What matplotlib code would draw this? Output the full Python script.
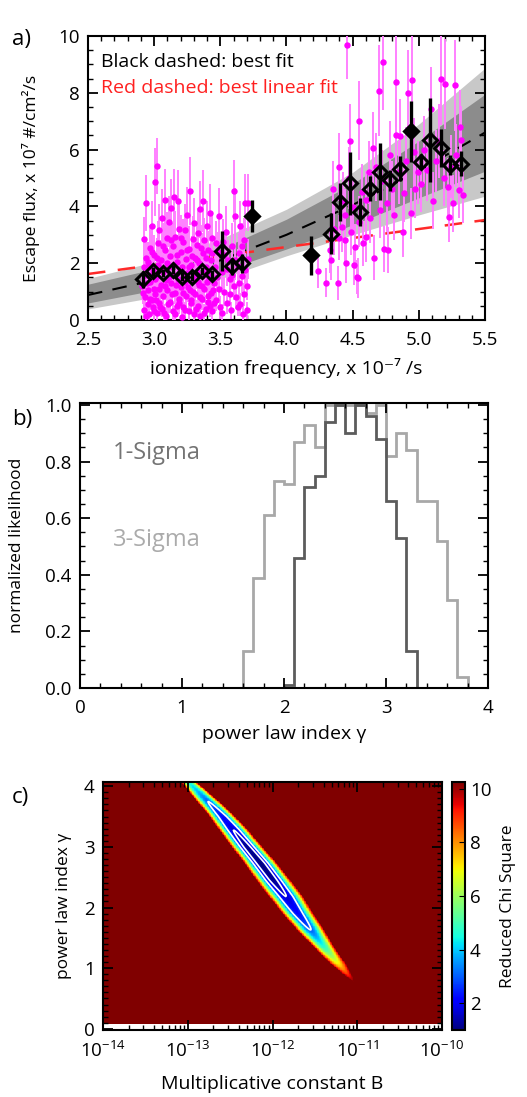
import numpy as np
import matplotlib
matplotlib.use("Agg")
import matplotlib.pyplot as plt
from matplotlib.ticker import MultipleLocator, LogLocator, NullFormatter

plt.rcParams["font.family"] = ["Open Sans", "DejaVu Sans"]
plt.rcParams["mathtext.fontset"] = "custom"
plt.rcParams["mathtext.rm"] = "Open Sans"
plt.rcParams["mathtext.default"] = "regular"
plt.rcParams["axes.linewidth"] = 1.5

# ---------------- panel a: escape flux vs ionization frequency ----------------
# individual measurements (magenta), low-frequency group
low_x = [2.91, 2.92, 2.92, 2.93, 2.93, 2.94, 2.94, 2.95, 2.95, 2.96, 2.96, 2.97, 2.97, 2.98, 2.98,
         2.99, 2.99, 3.00, 3.00, 3.01, 3.01, 3.02, 3.02, 3.02, 3.03, 3.03, 3.04, 3.04, 3.05, 3.05,
         3.06, 3.06, 3.07, 3.07, 3.08, 3.08, 3.09, 3.09, 3.10, 3.10, 3.11, 3.11, 3.12, 3.12, 3.13,
         3.13, 3.14, 3.14, 3.15, 3.15, 3.16, 3.16, 3.17, 3.17, 3.18, 3.18, 3.19, 3.19, 3.20, 3.20,
         3.21, 3.21, 3.22, 3.22, 3.23, 3.23, 3.24, 3.24, 3.25, 3.25, 3.26, 3.26, 3.27, 3.27, 3.28,
         3.28, 3.29, 3.29, 3.30, 3.30, 3.31, 3.31, 3.32, 3.32, 3.33, 3.33, 3.34, 3.34, 3.35, 3.35,
         3.36, 3.36, 3.37, 3.37, 3.38, 3.38, 3.39, 3.39, 3.40, 3.40, 3.41, 3.41, 3.42, 3.42, 3.43,
         3.43, 3.44, 3.44, 3.45, 3.46, 3.47, 3.48, 3.49, 3.49, 3.50, 3.51, 3.52, 3.53, 3.54, 3.55,
         3.56, 3.57, 3.58, 3.59, 3.60, 3.60, 3.61, 3.62, 3.63, 3.64, 3.65, 3.65, 3.66, 3.67, 3.68,
         3.69, 3.70, 3.71, 3.71,
         2.915, 2.925, 2.935, 2.945, 2.955, 2.965, 2.975, 2.985, 2.995, 3.005, 3.015, 3.025, 3.035,
         3.045, 3.055, 3.065, 3.075, 3.085, 3.095, 3.105, 3.115, 3.125, 3.135, 3.145, 3.155, 3.165,
         3.175, 3.185, 3.195, 3.205, 3.215, 3.225, 3.235, 3.245, 3.255, 3.265, 3.275, 3.285, 3.295,
         3.305, 3.315, 3.325, 3.335, 3.345, 3.355, 3.365, 3.375, 3.385, 3.395, 3.405, 3.415, 3.425,
         3.435, 3.445, 3.455, 3.465, 3.475, 3.51, 3.53, 3.55, 3.57, 3.59, 3.61, 3.63, 3.64, 3.66,
         3.68, 3.69, 3.70]
low_y = [1.20, 2.84, 0.35, 0.80, 1.60, 4.12, 2.20, 0.55, 1.05, 1.90, 0.20, 2.55, 1.35, 0.70, 3.30,
         1.75, 0.45, 2.30, 1.10, 4.87, 0.90, 5.42, 1.55, 0.25, 2.70, 1.95, 3.17, 0.60, 1.25, 2.10,
         0.40, 3.60, 1.70, 0.85, 2.45, 4.23, 1.40, 0.15, 2.90, 1.05, 3.46, 1.85, 0.65, 2.25, 1.30,
         3.95, 0.30, 2.60, 4.33, 1.60, 2.93, 0.95, 2.05, 0.50, 4.19, 1.45, 3.20, 0.75, 2.40, 1.15,
         0.10, 1.85, 2.75, 0.45, 3.17, 1.35, 2.15, 0.85, 3.70, 1.65, 0.30, 2.50, 4.54, 1.05, 1.95,
         0.60, 2.85, 1.40, 3.40, 0.20, 2.20, 0.90, 1.70, 2.65, 0.50, 3.05, 1.25, 2.00, 0.15, 3.90,
         1.55, 0.75, 4.19, 2.35, 1.10, 2.80, 0.40, 1.85, 3.30, 1.35, 0.65, 2.45, 3.78, 1.60, 0.95,
         2.10, 0.30, 2.90, 1.30, 1.85, 0.70, 2.40, 3.66, 1.10, 0.45, 1.70, 2.75, 1.00, 3.10, 0.60,
         2.10, 1.45, 0.35, 2.60, 4.54, 1.20, 3.66, 0.80, 1.90, 2.35, 3.30, 0.55, 1.55, 0.20, 2.80,
         4.13, 1.20, 4.13, 2.15,
         0.95, 1.85, 0.15, 1.30, 2.05, 0.75, 1.60, 2.40, 0.30, 1.45, 0.70, 2.20, 1.10,
         0.45, 1.80, 2.60, 0.25, 1.20, 2.00, 0.55, 1.50, 2.80, 0.90, 1.95, 0.20, 1.25,
         2.30, 0.60, 1.75, 2.90, 0.95, 1.55, 0.35, 2.45, 1.15, 1.85, 0.70, 2.25, 1.00,
         1.60, 0.40, 2.10, 1.35, 0.80, 2.55, 1.20, 0.25, 1.65, 2.20, 0.85, 1.45, 0.50,
         2.35, 1.05, 0.60, 2.70, 1.50, 0.25, 2.30, 1.80, 0.90, 1.60, 2.10, 0.45, 1.30, 2.60,
         0.90, 1.75, 0.35]
low_err = [0.5, 0.8, 0.3, 0.4, 0.6, 1.0, 0.7, 0.4, 0.5, 0.6, 0.3, 0.8, 0.5, 0.4, 0.9,
           0.6, 0.3, 0.7, 0.5, 1.2, 0.4, 1.0, 0.6, 0.3, 0.8, 0.6, 0.9, 0.4, 0.5, 0.7,
           0.3, 1.0, 0.6, 0.4, 0.8, 1.1, 0.5, 0.3, 0.9, 0.5, 0.9, 0.6, 0.4, 0.7, 0.5,
           1.0, 0.3, 0.8, 1.0, 0.6, 0.9, 0.4, 0.7, 0.4, 1.1, 0.5, 0.9, 0.4, 0.7, 0.5,
           0.3, 0.6, 0.8, 0.3, 0.9, 0.5, 0.7, 0.4, 1.0, 0.6, 0.3, 0.8, 1.2, 0.5, 0.6,
           0.4, 0.8, 0.5, 0.9, 0.3, 0.7, 0.4, 0.6, 0.8, 0.4, 0.9, 0.5, 0.7, 0.3, 1.0,
           0.6, 0.4, 1.1, 0.7, 0.5, 0.8, 0.3, 0.6, 0.9, 0.5, 0.4, 0.7, 1.0, 0.6, 0.4,
           0.7, 0.3, 0.8, 0.5, 0.6, 0.4, 0.7, 1.0, 0.5, 0.4, 0.6, 0.8, 0.5, 0.9, 0.4,
           0.7, 0.5, 0.3, 0.8, 1.1, 0.5, 1.0, 0.4, 0.6, 0.7, 0.9, 0.4, 0.6, 0.3, 0.8,
           1.0, 0.5, 1.0, 0.7,
           0.4, 0.6, 0.3, 0.5, 0.7, 0.4, 0.5, 0.7, 0.3, 0.5, 0.4, 0.7, 0.5,
           0.3, 0.6, 0.8, 0.3, 0.5, 0.6, 0.4, 0.5, 0.8, 0.4, 0.6, 0.3, 0.5,
           0.7, 0.4, 0.6, 0.8, 0.4, 0.5, 0.3, 0.7, 0.5, 0.6, 0.4, 0.7, 0.4,
           0.5, 0.3, 0.7, 0.5, 0.4, 0.8, 0.5, 0.3, 0.6, 0.7, 0.4, 0.5, 0.4,
           0.7, 0.5, 0.4, 0.8, 0.5, 0.3, 0.7, 0.6, 0.4, 0.5, 0.7, 0.3, 0.5, 0.8,
           0.4, 0.6, 0.3]

# individual measurements (magenta), high-frequency group
high_x = [4.24, 4.30, 4.33, 4.34, 4.35, 4.36, 4.39, 4.40, 4.40, 4.42, 4.43, 4.44, 4.44, 4.45, 4.46,
          4.47, 4.48, 4.49, 4.50, 4.51, 4.52, 4.53, 4.54, 4.55, 4.55, 4.57, 4.58, 4.60, 4.60, 4.62,
          4.63, 4.65, 4.66, 4.68, 4.70, 4.71, 4.72, 4.73, 4.74, 4.76, 4.77, 4.78, 4.80, 4.81, 4.83,
          4.83, 4.85, 4.86, 4.88, 4.89, 4.90, 4.92, 4.94, 4.95, 4.96, 4.97, 4.99, 5.02, 5.04, 5.06,
          5.09, 5.11, 5.13, 5.15, 5.17, 5.19, 5.20, 5.22, 5.23, 5.24, 5.26, 5.27, 5.28, 5.30, 5.31,
          5.32, 5.33]
high_y = [1.74, 1.32, 2.46, 2.11, 4.61, 3.20, 1.31, 5.40, 2.90, 3.29, 4.20, 2.82, 3.70, 2.00, 9.68,
          5.00, 6.30, 3.10, 3.99, 1.95, 2.58, 1.50, 1.47, 7.02, 3.46, 4.50, 2.70, 4.23, 2.93, 5.20,
          3.60, 6.04, 2.20, 5.40, 8.07, 3.87, 4.90, 9.10, 2.50, 4.11, 2.46, 5.80, 4.60, 3.70, 6.51,
          8.39, 5.20, 6.48, 3.11, 4.46, 5.60, 8.00, 3.76, 8.45, 5.90, 4.60, 5.20, 4.80, 6.00, 5.28,
          7.42, 4.20, 5.60, 6.30, 8.47, 5.00, 8.31, 4.69, 3.64, 5.40, 4.11, 8.27, 5.80, 4.58, 6.81,
          6.34, 4.40]
high_err = [0.6, 0.5, 0.8, 0.7, 1.0, 0.9, 0.6, 1.2, 0.8, 0.9, 1.0, 0.8, 0.9, 0.7, 1.2,
            1.1, 1.3, 0.8, 1.0, 0.7, 0.8, 0.6, 0.7, 1.4, 0.9, 1.0, 0.8, 1.0, 0.9, 1.1,
            0.9, 1.3, 0.8, 1.2, 1.6, 1.0, 1.1, 1.7, 0.8, 1.0, 0.8, 1.2, 1.0, 0.9, 1.3,
            1.6, 1.1, 1.3, 0.9, 1.0, 1.2, 1.5, 0.9, 1.6, 1.2, 1.0, 1.1, 1.0, 1.2, 1.1,
            1.5, 1.0, 1.1, 1.3, 1.6, 1.0, 1.6, 1.0, 0.9, 1.1, 1.0, 1.6, 1.1, 1.0, 1.3,
            1.2, 1.0]

# binned averages (black diamonds); filled = True for solid diamonds
bin_x = [2.913, 2.99, 3.064, 3.14, 3.21, 3.285, 3.36, 3.436, 3.51, 3.587, 3.663, 3.743,
         4.186, 4.335, 4.405, 4.48, 4.556, 4.63, 4.71, 4.78, 4.858, 4.94, 5.014, 5.085,
         5.165, 5.236, 5.316]
bin_y = [1.44, 1.71, 1.65, 1.77, 1.53, 1.53, 1.73, 1.61, 2.43, 1.90, 1.99, 3.66,
         2.28, 3.04, 4.16, 4.81, 3.81, 4.63, 5.22, 4.92, 5.33, 6.64, 5.57, 6.35,
         6.04, 5.47, 5.51]
bin_err = [0.30, 0.15, 0.15, 0.15, 0.15, 0.15, 0.15, 0.15, 0.70, 0.30, 0.35, 0.55,
           0.68, 0.73, 0.67, 1.10, 0.50, 0.45, 1.00, 0.37, 0.45, 1.07, 0.27, 1.48,
           0.67, 0.35, 0.44]
bin_filled = [False] * 11 + [True, True] + [False] * 8 + [True] + [False] * 5

# best fit curve and its confidence bands, read at these frequencies
fit_x = [2.5, 3.0, 3.5, 4.0, 4.5, 5.0, 5.5]
fit_best = [0.88, 1.40, 2.10, 3.00, 4.05, 5.25, 6.60]
band3_hi = [1.46, 2.05, 2.85, 3.90, 5.20, 6.90, 8.87]
band3_lo = [0.39, 0.80, 1.45, 2.26, 3.00, 3.70, 4.36]
band1_hi = [1.26, 1.80, 2.50, 3.55, 4.80, 6.30, 7.95]
band1_lo = [0.60, 1.05, 1.70, 2.50, 3.35, 4.30, 5.24]
lin_x = [2.5, 5.5]
lin_y = [1.62, 3.52]

# ---------------- panel b: likelihood histograms ----------------
hist_edges_3s = np.round(np.arange(1.6, 3.81, 0.1), 2)
hist_3sigma = [0.13, 0.39, 0.61, 0.73, 0.72, 0.87, 0.93, 0.85, 1.0, 1.0, 1.0,
               1.0, 0.97, 1.0, 0.82, 0.90, 0.84, 0.66, 0.66, 0.52, 0.31, 0.04]
hist_edges_1s = np.round(np.arange(2.0, 3.31, 0.1), 2)
hist_1sigma = [0.01, 0.46, 0.71, 0.75, 0.94, 1.0, 0.90, 1.0, 0.96, 0.88, 0.66, 0.53, 0.13]

# ---------------- panel c: reduced chi-square valley ----------------
valley_gamma = [0.50, 0.81, 1.08, 1.36, 1.63, 1.90, 2.18, 2.45, 2.73, 3.00, 3.28, 3.50, 3.75, 4.07]
valley_center = [-10.90, -11.06, -11.23, -11.40, -11.55, -11.70, -11.84, -11.99, -12.14,
                 -12.30, -12.46, -12.59, -12.76, -12.99]
valley_halfwidth = [0.01, 0.02, 0.09, 0.12, 0.16, 0.18, 0.20, 0.20, 0.19, 0.18, 0.17, 0.15, 0.13, 0.09]
valley_floor = [12.0, 10.0, 7.0, 4.6, 3.0, 2.2, 1.6, 1.15, 1.0, 1.15, 1.6, 2.2, 3.0, 4.6]
contour_levels = [1.6, 3.0]

W, H = 527, 1097
FS_H = 14      # horizontal texts
FS_V = 12.5    # rotated axis titles
fig = plt.figure(figsize=(W / 100, H / 100), dpi=100)


def box(l, t, r, b):
    return [l / W, 1 - b / H, (r - l) / W, (b - t) / H]


def style(ax):
    ax.tick_params(which="both", direction="in", top=True, right=True, labelsize=13.5)
    ax.tick_params(which="major", length=7, width=1.3, pad=6)
    ax.tick_params(axis="x", which="major", pad=8)
    ax.tick_params(which="minor", length=3.5, width=1.0)


# ----- a -----
ax = fig.add_axes(box(88, 36, 485, 320))
ax.fill_between(fit_x, band3_lo, band3_hi, color="#c8c8c8", lw=0, zorder=1)
ax.fill_between(fit_x, band1_lo, band1_hi, color="#8c8c8c", lw=0, zorder=1.5)
ax.plot(fit_x, fit_best, color="k", lw=1.5, dashes=(7, 5), zorder=2)
ax.plot(lin_x, lin_y, color="#ff2a2a", lw=1.8, dashes=(7, 5), zorder=2)
ax.errorbar(low_x + high_x, low_y + high_y, yerr=low_err + high_err, fmt="o", ms=3.6,
            color="#ff00ff", ecolor="#ff80ff", elinewidth=1.4, capsize=0, zorder=3)
for xx, yy, ee, ff in zip(bin_x, bin_y, bin_err, bin_filled):
    ax.errorbar(xx, yy, yerr=ee, fmt="D", ms=7, mew=2.2, color="k", ecolor="k",
                mfc="k" if ff else "none", elinewidth=2.4, capsize=0, zorder=4)
xt = np.arange(2.5, 5.51, 0.5)
ax.set_xticks(xt, [f"{v:.1f}" for v in xt])
ax.xaxis.set_minor_locator(MultipleLocator(0.1))
ax.yaxis.set_major_locator(MultipleLocator(2))
ax.yaxis.set_minor_locator(MultipleLocator(0.5))
ax.set_xlim(2.5, 5.5)
ax.set_ylim(0, 10)
style(ax)
ax.text(0.033, 0.908, "Black dashed: best fit", transform=ax.transAxes, fontsize=FS_H,
        va="center", color="k")
ax.text(0.033, 0.817, "Red dashed: best linear fit", transform=ax.transAxes, fontsize=FS_H,
        va="center", color="#ff2020")
ax.set_xlabel("ionization frequency, x 10⁻⁷ /s", fontsize=FS_H)
ax.set_ylabel("Escape flux, x 10⁷ #/cm²/s", fontsize=FS_V)
ax.xaxis.set_label_coords(0.5, -0.135)
ax.yaxis.set_label_coords(-0.12, 0.5)
fig.text(12 / W, 1 - 40 / H, "a)", fontsize=16, va="center")

# ----- b -----
bx = fig.add_axes(box(80, 403, 488, 688))
bx.stairs(hist_3sigma, hist_edges_3s, baseline=0, color="#a8a8a8", lw=2)
bx.stairs(hist_1sigma, hist_edges_1s, baseline=0, color="#5c5c5c", lw=2)
yt = np.arange(0, 1.01, 0.2)
bx.set_yticks(yt, [f"{v:.1f}" for v in yt])
bx.xaxis.set_major_locator(MultipleLocator(1))
bx.xaxis.set_minor_locator(MultipleLocator(0.2))
bx.yaxis.set_minor_locator(MultipleLocator(0.05))
bx.set_xlim(0, 4)
bx.set_ylim(0, 1.007)
style(bx)
bx.text(0.081, 0.825, "1-Sigma", transform=bx.transAxes, fontsize=17, color="#747474", va="center")
bx.text(0.081, 0.52, "3-Sigma", transform=bx.transAxes, fontsize=17, color="#ababab", va="center")
bx.set_xlabel("power law index γ", fontsize=FS_H)
bx.set_ylabel("normalized likelihood", fontsize=FS_V)
bx.xaxis.set_label_coords(0.5, -0.13)
bx.yaxis.set_label_coords(-0.135, 0.5)
fig.text(12 / W, 1 - 420 / H, "b)", fontsize=16, va="center")

# ----- c -----
cx = fig.add_axes(box(103, 782, 442, 1030))
gam = np.linspace(0.08, 4.07, 320)
logb = np.linspace(-14, -10, 500)
center = np.interp(gam, valley_gamma, valley_center)
hw = np.interp(gam, valley_gamma, valley_halfwidth)
floor = np.interp(gam, valley_gamma, valley_floor)
dist = (logb[None, :] - center[:, None]) / hw[:, None]
chi = floor[:, None] + np.maximum(10.0 - floor[:, None], 0.5) * dist ** 2
bgrid = 10.0 ** logb
mesh = cx.pcolormesh(bgrid, gam, chi, cmap="jet", vmin=1.0, vmax=10.25, shading="auto",
                     rasterized=True)
cx.contour(bgrid, gam, chi, levels=contour_levels, colors="white", linewidths=1.2)
cx.set_xscale("log")
cx.set_xticks([1e-14, 1e-13, 1e-12, 1e-11, 1e-10])
cx.xaxis.set_minor_locator(LogLocator(base=10, subs=np.arange(2, 10), numticks=20))
cx.xaxis.set_minor_formatter(NullFormatter())
cx.set_xlim(1e-14, 1e-10)
cx.set_ylim(-0.02, 4.07)
cx.yaxis.set_major_locator(MultipleLocator(1))
cx.yaxis.set_minor_locator(MultipleLocator(0.1))
style(cx)
cx.set_xlabel("Multiplicative constant B", fontsize=FS_H)
cx.set_ylabel("power law index γ", fontsize=FS_V)
cx.xaxis.set_label_coords(0.5, -0.18)
cx.yaxis.set_label_coords(-0.09, 0.5)
fig.text(12 / W, 1 - 797 / H, "c)", fontsize=16, va="center")

cax = fig.add_axes(box(452, 782, 465, 1030))
cb = fig.colorbar(mesh, cax=cax, ticks=[2, 4, 6, 8, 10])
cb.outline.set_linewidth(1.5)
cax.tick_params(direction="in", length=4, labelsize=13.5)
fig.text(508 / W, 1 - 906 / H, "Reduced Chi Square", rotation=90, fontsize=FS_V,
         ha="center", va="center")

fig.savefig("out.png", dpi=100)
